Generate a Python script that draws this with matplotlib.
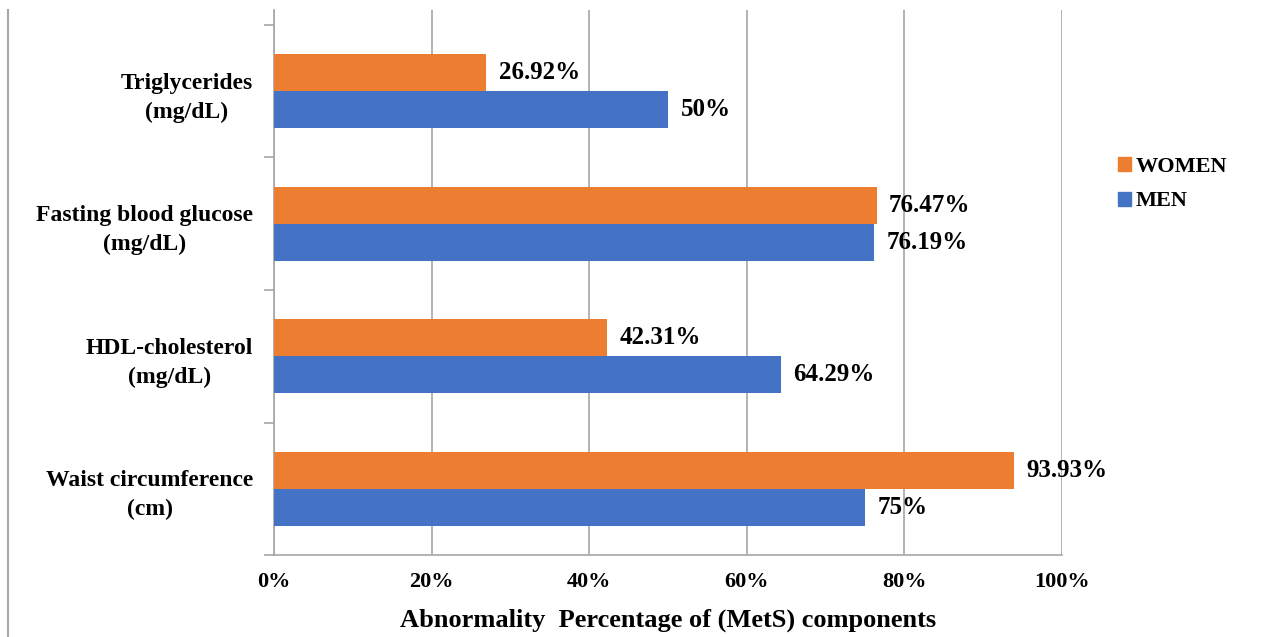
import matplotlib
matplotlib.use("Agg")
import matplotlib.pyplot as plt
import numpy as np
from matplotlib.lines import Line2D
from matplotlib.patches import Rectangle

categories = ["Waist circumference\n(cm)", "HDL-cholesterol\n(mg/dL)",
              "Fasting blood glucose\n(mg/dL)", "Triglycerides\n(mg/dL)"]
women = [93.93, 42.31, 76.47, 26.92]
men = [75, 64.29, 76.19, 50]
women_labels = ["93.93%", "42.31%", "76.47%", "26.92%"]
men_labels = ["75%", "64.29%", "76.19%", "50%"]
xticks = [0, 20, 40, 60, 80, 100]
xtick_labels = ["0%", "20%", "40%", "60%", "80%", "100%"]

ORANGE = "#ED7D31"
BLUE = "#4472C4"
GRID = "#A6A6A6"

plt.rcParams['font.family'] = ['Liberation Serif', 'DejaVu Serif']
plt.rcParams['font.weight'] = 'bold'

W, H = 1282, 637
fig = plt.figure(figsize=(W / 100, H / 100), dpi=100)
left, right, top, bottom = 274, 1062, 10, 555
ax = fig.add_axes([left / W, 1 - bottom / H, (right - left) / W, (bottom - top) / H])

y = np.arange(len(categories))
h = 0.28
ax.barh(y + h / 2, women, height=h, color=ORANGE, zorder=3, label="WOMEN")
ax.barh(y - h / 2, men, height=h, color=BLUE, zorder=3, label="MEN")

for yi, v, lab in zip(y, women, women_labels):
    ax.annotate(lab, (v, yi + h / 2), xytext=(9, 0), textcoords="offset points",
                va="center", ha="left", fontsize=18, fontweight="bold")
for yi, v, lab in zip(y, men, men_labels):
    ax.annotate(lab, (v, yi - h / 2), xytext=(9, 0), textcoords="offset points",
                va="center", ha="left", fontsize=18, fontweight="bold")

ax.set_xlim(0, 100)
ax.set_ylim(-0.5, 3.5 + 15 / 132.5)
ax.set_xticks(xticks)
ax.set_xticklabels(xtick_labels, fontsize=16, fontweight="bold")
ax.xaxis.grid(True, color=GRID, linewidth=1.2, zorder=0)
ax.tick_params(axis="x", length=0, pad=12)

ax.set_yticks(y)
ax.set_yticklabels(categories, fontsize=17, fontweight="bold", multialignment="center",
                   linespacing=1.5)
ax.tick_params(axis="y", length=0, pad=15)
ax.set_yticks(np.arange(-0.5, 4, 1), minor=True)
ax.tick_params(axis="y", which="minor", length=7, color=GRID, width=1.2)

for s in ["top", "right"]:
    ax.spines[s].set_visible(False)
for s in ["left", "bottom"]:
    ax.spines[s].set_color(GRID)
    ax.spines[s].set_linewidth(1.2)

ax.set_xlabel("Abnormality  Percentage of (MetS) components", fontsize=19,
              fontweight="bold", labelpad=12)

# legend
handles = [Rectangle((0, 0), 1, 1, color=ORANGE), Rectangle((0, 0), 1, 1, color=BLUE)]
fig.legend(handles, ["WOMEN", "MEN"], loc="upper left",
           bbox_to_anchor=(1098 / W, 1 - 137 / H), frameon=False,
           prop={"size": 16, "weight": "bold"}, handlelength=0.6, handleheight=0.6,
           handletextpad=0.2, labelspacing=0.65)

# left frame line
fig.add_artist(Line2D([8 / W, 8 / W], [0, 1 - 10 / H], color=GRID, linewidth=1.5))

fig.savefig("out.png", dpi=100)
